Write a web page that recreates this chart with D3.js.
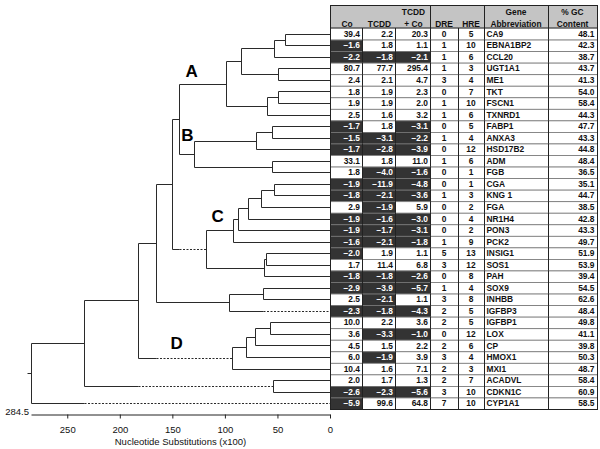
<!DOCTYPE html>
<html><head><meta charset="utf-8">
<script src="https://cdn.jsdelivr.net/npm/d3@7"></script>
<style>body{margin:0;background:#fff} svg{display:block;font-family:"Liberation Sans",Arial,sans-serif}</style>
</head><body><svg id="c" width="600" height="449"></svg>
<script>
// ---------------- DATA ----------------
const genes = ["CA9","EBNA1BP2","CCL20","UGT1A1","ME1","TKT","FSCN1","TXNRD1","FABP1","ANXA3","HSD17B2","ADM","FGB","CGA","KNG 1","FGA","NR1H4","PON3","PCK2","INSIG1","SOS1","PAH","SOX9","INHBB","IGFBP3","IGFBP1","LOX","CP","HMOX1","MXI1","ACADVL","CDKN1C","CYP1A1"];
const co = [39.4,-1.6,-2.2,80.7,2.4,1.8,1.9,2.5,-1.7,-1.5,-1.7,33.1,1.8,-1.9,-1.8,2.9,-1.9,-1.9,-1.6,-2.0,1.7,-1.8,-2.9,2.5,-2.3,10.0,3.6,4.5,6.0,10.4,2.0,-2.6,-5.9];
const tcdd = [2.2,1.8,-1.8,77.7,2.1,1.9,1.9,1.6,1.8,-3.1,-2.8,1.8,-4.0,-11.9,-2.1,-1.9,-1.6,-1.7,-2.1,1.9,11.4,-1.8,-3.9,-2.1,-1.8,2.2,-3.3,1.5,-1.9,1.6,1.7,-2.3,99.6];
const tcddCo = [20.3,1.1,-2.1,295.4,4.7,2.3,2.0,3.2,-3.1,-2.2,-3.9,11.0,-1.6,-4.8,-3.6,5.9,-3.0,-3.1,-1.8,1.1,6.8,-2.6,-5.7,1.1,-4.3,3.6,-1.0,2.2,3.9,7.1,1.3,-5.6,64.8];
const dre = [0,1,1,1,3,0,1,1,0,1,0,1,0,0,1,0,0,0,1,5,3,0,1,3,2,2,0,2,3,2,2,3,7];
const hre = [5,10,6,3,4,7,10,6,5,4,12,6,1,1,3,2,4,2,9,13,12,8,4,8,5,5,12,6,4,3,7,10,10];
const gcContent = [48.1,42.3,38.7,43.7,41.3,54.0,58.4,44.3,47.7,43.3,44.8,48.4,36.5,35.1,44.7,38.5,42.8,43.3,49.7,51.9,53.9,39.4,54.5,62.6,48.4,49.8,41.1,39.8,50.3,48.7,58.4,60.9,58.5];

// dendrogram merges: [node, child1, child2, distance (x100 substitutions)]
const merges = [
  ["N01","CA9","EBNA1BP2",42.8],
  ["N012","N01","CCL20",53.0],
  ["N34","UGT1A1","ME1",49.2],
  ["N01234","N012","N34",85.0],
  ["N56","TKT","FSCN1",49.2],
  ["N567","N56","TXNRD1",60.2],
  ["A","N01234","N567",99.3],
  ["N89","FABP1","ANXA3",54.9],
  ["N8910","N89","HSD17B2",70.7],
  ["N1112","ADM","FGB",55.5],
  ["B","N8910","N1112",129.1],
  ["AB","A","B",143.4],
  ["N1314","CGA","KNG 1",53.0],
  ["N15","N1314","FGA",65.7],
  ["N16","N15","NR1H4",78.3],
  ["N17","N16","PON3",87.8],
  ["N18","N17","PCK2",92.0],
  ["N1920","INSIG1","SOS1",61.2],
  ["N21","N1920","PAH",62.5],
  ["C","N18","N21",118.3],
  ["ABC","AB","C",150.1],
  ["N2223","SOX9","INHBB",64.1],
  ["N24","N2223","IGFBP3",95.8],
  ["ABC24","ABC","N24",165.9],
  ["N2526","IGFBP1","LOX",57.1],
  ["N27","N2526","CP",71.4],
  ["N28","N27","HMOX1",80.2],
  ["D","N28","MXI1",93.6],
  ["ABCD","ABC24","D",182.4],
  ["N3031","ACADVL","CDKN1C",54.0],
  ["N","ABCD","N3031",233.8],
  ["root","N","CYP1A1",284.5]
];
const dashedBranches = ["C","IGFBP3","D","N3031","CYP1A1"];
const clusterLabels = ["A","B","C","D"];
const axisTicks = [250,200,150,100,50,0];
const rootDistance = 284.5;
const headers = [["","Co"],["","TCDD"],["TCDD","+ Co"],["","DRE"],["","HRE"],["Gene","Abbreviation"],["% GC","Content"]];

// ---------------- LAYOUT ----------------
const svg = d3.select("#c");
const x = d3.scaleLinear().domain([rootDistance, 0]).range([31, 330]);
const y = d3.scaleBand().domain(genes).range([28, 409]);
const colEdges = [330, 362, 395, 430, 458, 484, 548, 597];

const nodes = {};
genes.forEach(g => nodes[g] = {name: g, dist: 0});
merges.forEach(([n, a, b, h]) => nodes[n] = {name: n, dist: h, children: [nodes[a], nodes[b]]});
const root = d3.hierarchy(nodes["root"]);
root.eachAfter(d => {
  d.px = x(d.data.dist);
  d.py = d.children ? (d.children[0].py + d.children[1].py) / 2 : y(d.data.name) + y.bandwidth() / 2;
});

const g = svg.append("g").attr("stroke", "#2a2a2a").attr("stroke-width", 1).attr("fill", "none");
const r = v => Math.round(v) + 0.5;
root.each(d => {
  if (d.children) {
    g.append("line").attr("x1", r(d.px)).attr("x2", r(d.px))
      .attr("y1", r(d.children[0].py)).attr("y2", r(d.children[1].py));
  }
  if (d.parent) {
    if (dashedBranches.includes(d.data.name)) {
      const sib = d.parent.children.find(c => c !== d);
      g.append("line").attr("x1", r(d.parent.px)).attr("x2", r(sib.px)).attr("y1", r(d.py)).attr("y2", r(d.py));
      g.append("line").attr("x1", r(sib.px)).attr("x2", r(d.px)).attr("y1", r(d.py)).attr("y2", r(d.py))
        .attr("stroke-dasharray", "2,1.5");
    } else {
      g.append("line").attr("x1", r(d.parent.px)).attr("x2", r(d.px)).attr("y1", r(d.py)).attr("y2", r(d.py));
    }
  }
});
// root stub
g.append("line").attr("x1", r(root.px) - 4).attr("x2", r(root.px)).attr("y1", r(root.py)).attr("y2", r(root.py));

// cluster labels
const labelOffset = {A: [-34, -7], B: [-7, -13], C: [12, -27], D: [-55, -9]};
clusterLabels.forEach(name => {
  const nd = root.find(d => d.data.name === name);
  svg.append("text").attr("x", nd.px + labelOffset[name][0]).attr("y", nd.py + labelOffset[name][1])
    .attr("text-anchor", "middle").attr("font-size", 17).attr("font-weight", "bold").attr("fill", "#000").text(name);
});

// axis
const axisG = svg.append("g").attr("transform", "translate(0,414.5)")
  .call(d3.axisBottom(x).tickValues(axisTicks).tickSize(4).tickSizeOuter(0).tickPadding(8));
axisG.selectAll("path,line").attr("stroke", "#222");
axisG.selectAll("text").attr("font-size", 9.5).attr("fill", "#111").attr("font-family", "Liberation Sans, Arial, sans-serif");
svg.append("text").attr("x", x(rootDistance) - 2).attr("y", 415).attr("text-anchor", "end")
  .attr("font-size", 9.5).attr("fill", "#111").text(rootDistance);
svg.append("text").attr("x", (x(rootDistance) + x(0)) / 2).attr("y", 445).attr("text-anchor", "middle")
  .attr("font-size", 9.5).attr("fill", "#111").text("Nucleotide Substitutions (x100)");

// ---------------- TABLE ----------------
const tg = svg.append("g").attr("font-weight", "bold").attr("font-size", 8.4);
tg.append("rect").attr("x", colEdges[0] + 0.5).attr("y", 5.5).attr("width", colEdges[7] - colEdges[0])
  .attr("height", 22.5).attr("fill", "#c4c4c4").attr("stroke", "#222");
[3, 5, 6].forEach(c => tg.append("line").attr("x1", colEdges[c] + 0.5).attr("x2", colEdges[c] + 0.5)
  .attr("y1", 5.5).attr("y2", 28).attr("stroke", "#222"));
headers.forEach((h, c) => {
  const cx = (colEdges[c] + colEdges[c + 1]) / 2 + (c < 3 ? 1 : 0);
  h.forEach((t, k) => {
    if (t) tg.append("text").attr("x", cx).attr("y", 15 + k * 11.5).attr("text-anchor", "middle").attr("fill", "#111").text(t);
  });
});

const fmt = d3.format(".1f");
const rows = genes.map((gname, i) => [co[i], tcdd[i], tcddCo[i], dre[i], hre[i], gname, gcContent[i]]);
rows.forEach((row, i) => {
  const top = y(genes[i]), h = y.bandwidth();
  row.forEach((v, c) => {
    const x0 = colEdges[c], x1 = colEdges[c + 1];
    const dark = c < 3 && v < 0;
    tg.append("rect").attr("x", x0 + 0.5).attr("y", top + 0.5).attr("width", x1 - x0).attr("height", h)
      .attr("fill", dark ? "#333" : "#fff").attr("stroke", "#777").attr("stroke-width", 0.8);
    let tx, anchor, txt;
    if (c < 3) { tx = x1 - 2; anchor = "end"; txt = fmt(v); }
    else if (c < 5) { tx = (x0 + x1) / 2; anchor = "middle"; txt = v; }
    else if (c === 5) { tx = x0 + 2.5; anchor = "start"; txt = v; }
    else { tx = x1 - 2.5; anchor = "end"; txt = fmt(v); }
    tg.append("text").attr("x", tx).attr("y", top + h / 2 + 3).attr("text-anchor", anchor)
      .attr("fill", dark ? "#fff" : "#111").text(txt);
  });
  colEdges.slice(1).forEach(e => tg.append("line").attr("x1", e + 0.5).attr("x2", e + 0.5)
    .attr("y1", top).attr("y2", top + h + 1).attr("stroke", "#222"));
});
tg.append("rect").attr("x", colEdges[0] + 0.5).attr("y", 5.5).attr("width", colEdges[7] - colEdges[0])
  .attr("height", 409 - 5).attr("fill", "none").attr("stroke", "#222");
</script></body></html>
